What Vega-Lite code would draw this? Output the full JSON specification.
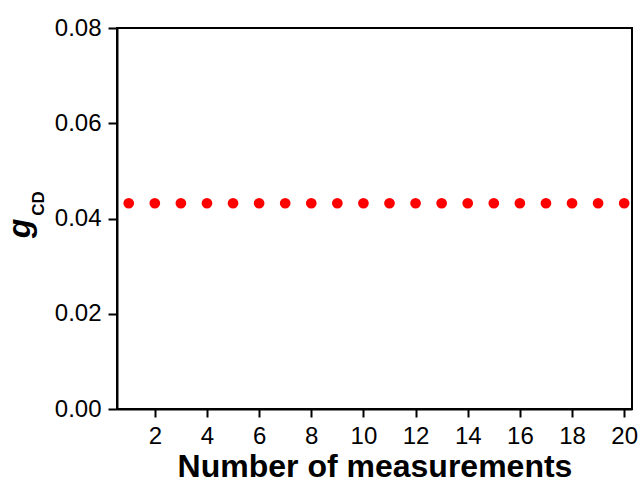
{
  "$schema": "https://vega.github.io/schema/vega-lite/v6.json",
  "width": 515,
  "height": 381,
  "autosize": {"type": "none"},
  "padding": {"left": 117, "top": 28, "right": 8, "bottom": 75},
  "background": "white",
  "config": {
    "font": "Liberation Sans",
    "view": {"stroke": "black", "strokeWidth": 2},
    "axis": {
      "grid": false,
      "domainColor": "black",
      "domainWidth": 2,
      "tickColor": "black",
      "tickWidth": 2,
      "tickSize": 9,
      "labelColor": "black",
      "labelFont": "Liberation Sans",
      "labelFontSize": 24,
      "titleColor": "black",
      "titleFont": "Liberation Sans"
    }
  },
  "data": {
    "values": [
      {"n": 1, "g": 0.0432}, {"n": 2, "g": 0.0432}, {"n": 3, "g": 0.0432}, {"n": 4, "g": 0.0432},
      {"n": 5, "g": 0.0432}, {"n": 6, "g": 0.0432}, {"n": 7, "g": 0.0432}, {"n": 8, "g": 0.0432},
      {"n": 9, "g": 0.0432}, {"n": 10, "g": 0.0432}, {"n": 11, "g": 0.0432}, {"n": 12, "g": 0.0432},
      {"n": 13, "g": 0.0432}, {"n": 14, "g": 0.0432}, {"n": 15, "g": 0.0432}, {"n": 16, "g": 0.0432},
      {"n": 17, "g": 0.0432}, {"n": 18, "g": 0.0432}, {"n": 19, "g": 0.0432}, {"n": 20, "g": 0.0432}
    ]
  },
  "layer": [
    {
      "mark": {"type": "point", "filled": true, "shape": "circle", "size": 115, "color": "#ff0000", "opacity": 1},
      "encoding": {
        "x": {
          "field": "n", "type": "quantitative",
          "scale": {"domain": [0.55, 20.3], "nice": false, "zero": false},
          "axis": {
            "values": [2, 4, 6, 8, 10, 12, 14, 16, 18, 20],
            "title": "Number of measurements",
            "titleFontSize": 32,
            "titleFontWeight": "bold",
            "titleBaseline": "alphabetic",
            "titleY": 67,
            "tickSize": 8,
            "labelPadding": 7
          }
        },
        "y": {
          "field": "g", "type": "quantitative",
          "scale": {"domain": [0, 0.08], "nice": false},
          "axis": {
            "values": [0, 0.02, 0.04, 0.06, 0.08],
            "format": ".2f",
            "title": "g",
            "titleFontSize": 32,
            "titleFontWeight": "bold",
            "titleFontStyle": "italic",
            "titleAngle": -90,
            "titleAlign": "center",
            "titleBaseline": "alphabetic",
            "titleX": -88,
            "titleY": 200,
            "labelPadding": 7
          }
        }
      }
    },
    {
      "mark": {"type": "point", "filled": true, "opacity": 0},
      "encoding": {
        "x": {"field": "n", "type": "quantitative", "scale": {"domain": [0.55, 20.3], "nice": false, "zero": false}},
        "y": {
          "field": "g", "type": "quantitative",
          "scale": {"domain": [0, 0.08], "nice": false},
          "axis": {
            "orient": "left",
            "labels": false,
            "ticks": false,
            "domain": false,
            "title": "CD",
            "titleFontSize": 17,
            "titleFontWeight": "bold",
            "titleAngle": -90,
            "titleAlign": "center",
            "titleBaseline": "alphabetic",
            "titleX": -74,
            "titleY": 175
          }
        }
      }
    }
  ],
  "resolve": {"scale": {"y": "independent"}, "axis": {"y": "independent"}}
}
